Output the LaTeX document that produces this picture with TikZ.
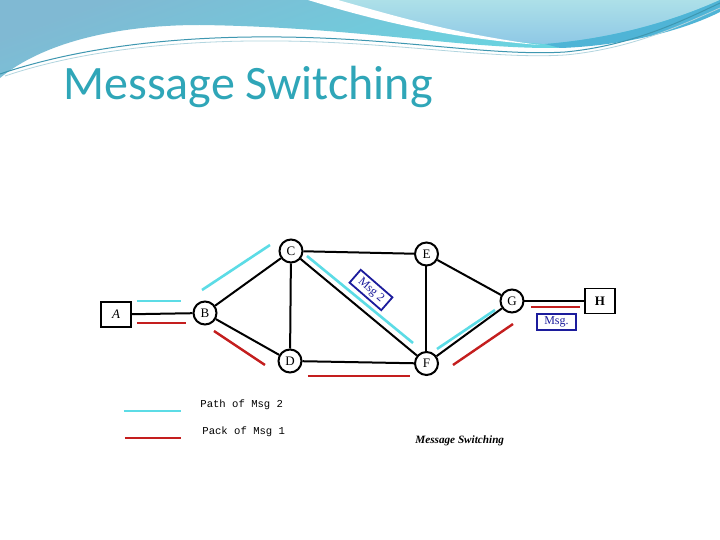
\documentclass[tikz,border=0pt]{standalone}
\usepackage{fontspec}
\setmainfont{Liberation Serif}
\newfontfamily\titlefont{Carlito}
\newfontfamily\monofont{Liberation Mono}
\usetikzlibrary{shapes.geometric}
\definecolor{titlecol}{HTML}{2FA6B8}
\definecolor{bandtop}{HTML}{80B9D3}
\definecolor{bandbot}{HTML}{62DCE4}
\definecolor{lightband}{HTML}{ADE0E8}
\definecolor{lightband2}{HTML}{8EC8E6}
\definecolor{darkstripe}{HTML}{4FB4D6}
\definecolor{swline}{HTML}{3E97B0}
\definecolor{msgcyan}{HTML}{5CDCE6}
\definecolor{msgred}{HTML}{C41E1E}
\definecolor{msgblue}{HTML}{1C1C9C}
\tikzset{
  router/.style={circle,draw=black,line width=1pt,fill=white,minimum size=11.5pt,inner sep=0pt,font=\fontsize{6.5}{7}\selectfont},
  hostbox/.style={rectangle,draw=black,line width=0.8pt,fill=white,minimum width=15pt,minimum height=12.5pt,inner sep=0pt,font=\fontsize{6.5}{7}\selectfont},
  link/.style={draw=black,line width=1pt},
  cyanpath/.style={draw=msgcyan,line width=1.3pt},
  redpath/.style={draw=msgred,line width=1.2pt},
  msgbox/.style={rectangle,draw=msgblue,line width=0.9pt,fill=white,inner sep=1.2pt,text=msgblue,font=\fontsize{6}{7}\selectfont},
  legendtext/.style={anchor=west,inner sep=0pt,font=\monofont\fontsize{5.3}{7}\selectfont}
}
\begin{document}
\begin{tikzpicture}[x=0.5pt,y=-0.5pt]
\useasboundingbox (0,0) rectangle (720,540);
\fill[white] (0,0) rectangle (720,540);
% header band
\shade[top color=bandtop,bottom color=bandbot,shading angle=20]
  (0,0) -- (720,0) -- (720,10) .. controls (660,30) and (610,48) .. (545,48)
  .. controls (450,47) and (350,27) .. (200,25) .. controls (110,25) and (40,45) .. (0,78) -- cycle;
\shade[top color=lightband,bottom color=lightband2]
  (330,0) .. controls (390,20) and (460,38) .. (545,44) .. controls (620,38) and (680,18) .. (720,0) -- cycle;
\fill[darkstripe] (545,44) .. controls (620,38) and (680,18) .. (720,0) -- (720,12)
  .. controls (680,32) and (620,46) .. (560,48) -- cycle;
\fill[white] (308,0) .. controls (380,22) and (450,38) .. (540,45)
  .. controls (455,34) and (395,16) .. (338,0) -- cycle;
\draw[swline,line width=0.5pt] (0,74) .. controls (100,40) and (220,34) .. (320,38)
  .. controls (420,42) and (500,56) .. (565,52) .. controls (630,46) and (680,22) .. (720,3);
\draw[white!60!swline,line width=0.4pt] (5,76) .. controls (100,44) and (220,38) .. (320,42)
  .. controls (420,46) and (500,59) .. (565,55) .. controls (630,49) and (680,26) .. (720,8);
% title
\node[anchor=base west,inner sep=0pt,text=titlecol,font=\titlefont\fontsize{24}{26}\selectfont] (title) at (63,100) {Message Switching};
% nodes
\node[hostbox,font=\itshape\fontsize{6.5}{7}\selectfont] (A) at (116,314.5) {A};
\node[router] (B) at (205,313) {B};
\node[router] (C) at (291,251) {C};
\node[router] (D) at (290,361) {D};
\node[router] (E) at (426.5,254) {E};
\node[router] (F) at (426.5,363.5) {F};
\node[router] (G) at (512,301) {G};
\node[hostbox,font=\bfseries\fontsize{6.5}{7}\selectfont] (H) at (600,301) {H};
% links
\draw[link] (A) -- (B);
\draw[link] (B) -- (C);
\draw[link] (B) -- (D);
\draw[link] (C) -- (D);
\draw[link] (C) -- (E);
\draw[link] (C) -- (F);
\draw[link] (D) -- (F);
\draw[link] (E) -- (F);
\draw[link] (E) -- (G);
\draw[link] (F) -- (G);
\draw[link] (G) -- (H);
% path of msg 2 (cyan)
\draw[cyanpath] (137,301) -- (181,301);
\draw[cyanpath] (202,290) -- (270,245);
\draw[cyanpath] (307,256) -- (413,343);
\draw[cyanpath] (437,349) -- (495,310);
% path of msg 1 (red)
\draw[redpath] (137,323) -- (186,323);
\draw[redpath] (214,331) -- (265,365);
\draw[redpath] (308,376) -- (410,376);
\draw[redpath] (453,365) -- (513,324);
\draw[msgred,line width=0.6pt] (531,307) -- (580,307);
% message boxes
\node[msgbox,rotate=-41,minimum width=21pt,minimum height=8.5pt] (m2) at (371,290) {Msg 2};
\node[msgbox,minimum width=19.5pt,minimum height=7pt] (m1) at (556.5,322) {Msg.};
% legend
\coordinate (lc1) at (124,411);
\coordinate (lc2) at (181,411);
\coordinate (lr1) at (125,438);
\coordinate (lr2) at (181,438);
\draw[cyanpath] (lc1) -- (lc2);
\draw[redpath] (lr1) -- (lr2);
\node[legendtext] (l2) at (200,405) {Path of Msg 2};
\node[legendtext] (l1) at (202,432) {Pack of Msg 1};
\node[anchor=west,inner sep=0pt,font=\bfseries\itshape\fontsize{5.6}{7}\selectfont] (cap) at (415,441) {Message Switching};
\end{tikzpicture}
\end{document}
